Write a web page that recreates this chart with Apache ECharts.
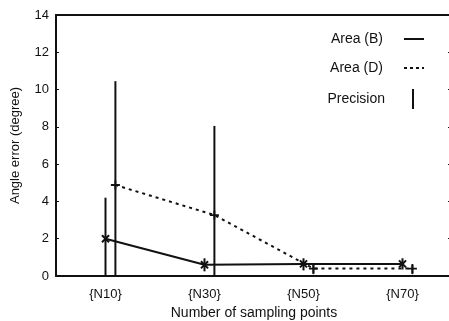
<!DOCTYPE html>
<html>
<head>
<meta charset="utf-8">
<script src="https://cdn.jsdelivr.net/npm/echarts@6/dist/echarts.min.js"></script>
<style>
  html, body { margin: 0; padding: 0; background: #fff; }
  #chart { width: 449px; height: 321px; }
</style>
</head>
<body>
<div id="chart"></div>
<script>
const categories = ['{N10}', '{N30}', '{N50}', '{N70}'];
// x positions on the hidden value axis (category index, D drawn slightly to the right)
const areaBX = [0, 1, 2, 3];
const areaDX = [0.1, 1.1, 2.1, 3.1];
const areaB = [2.0, 0.6, 0.65, 0.65];
const areaD = [4.88, 3.27, 0.4, 0.4];
// precision bars: [low, high]
const precisionB = [[0, 4.2], [0.25, 0.95], [0.3, 0.95], [0.35, 0.95]];
const precisionD = [[0, 10.45], [0, 8.05], [0.1, 0.6], [0.1, 0.6]];
const yTicks = [0, 14, 2];

const ink = '#111';
const plusPath = 'path://M4,0h2v4h4v2h-4v4h-2v-4h-4v-2h4z';

const chart = echarts.init(document.getElementById('chart'));

const precisionData = [];
precisionB.forEach((p, i) => precisionData.push([areaBX[i], p[0], p[1]]));
precisionD.forEach((p, i) => precisionData.push([areaDX[i], p[0], p[1]]));

const legendBase = {
  orient: 'vertical',
  right: 20,
  align: 'right',
  itemWidth: 20,
  itemHeight: 20,
  textStyle: { color: ink, fontSize: 14, padding: [0, 16, 0, 0] }
};

const option = {
  animation: false,
  backgroundColor: '#fff',
  textStyle: { fontFamily: 'Liberation Sans, Arial, sans-serif' },
  grid: { left: 56, top: 15, width: 396, height: 261, outerBoundsMode: 'none', containLabel: false },
  legend: [
    Object.assign({}, legendBase, {
      top: 27,
      data: [{ name: 'Area (B)', icon: 'path://M0,0h20v2h-20z', itemStyle: { color: ink } }]
    }),
    Object.assign({}, legendBase, {
      top: 56,
      data: [{ name: 'Area (D)', icon: 'path://M0,0h3v2h-3zM6,0h3v2h-3zM12,0h3v2h-3zM18,0h2v2h-2z', itemStyle: { color: ink } }]
    }),
    Object.assign({}, legendBase, {
      top: 84,
      right: 30,
      itemWidth: 2,
      textStyle: { color: ink, fontSize: 14, padding: [0, 22, 0, 0] },
      data: [{ name: 'Precision', icon: 'path://M0,0h2v20h-2z', itemStyle: { color: ink } }]
    })
  ],
  xAxis: [
    {
      type: 'category',
      data: categories,
      boundaryGap: true,
      position: 'bottom',
      name: 'Number of sampling points',
      nameLocation: 'middle',
      nameGap: 28,
      nameTextStyle: { color: ink, fontSize: 14 },
      axisLine: { onZero: false, lineStyle: { color: ink, width: 2 } },
      axisTick: { show: false },
      axisLabel: { color: ink, fontSize: 13, margin: 12 },
      splitLine: { show: false }
    },
    {
      type: 'value',
      min: -0.5,
      max: 3.5,
      show: false
    },
    {
      type: 'category',
      data: categories,
      boundaryGap: true,
      position: 'top',
      axisLine: { onZero: false, lineStyle: { color: ink, width: 2 } },
      axisTick: { inside: true, alignWithLabel: true, length: 3, lineStyle: { color: ink } },
      axisLabel: { show: false },
      splitLine: { show: false }
    }
  ],
  yAxis: [
    {
      type: 'value',
      min: yTicks[0],
      max: yTicks[1],
      interval: yTicks[2],
      name: 'Angle error (degree)',
      nameLocation: 'middle',
      nameGap: 34,
      nameTextStyle: { color: ink, fontSize: 13 },
      axisLine: { show: true, onZero: false, lineStyle: { color: ink, width: 2 } },
      axisTick: { show: true, inside: true, length: 3, lineStyle: { color: ink } },
      axisLabel: { color: ink, fontSize: 13, margin: 7 },
      splitLine: { show: false }
    },
    {
      type: 'value',
      min: yTicks[0],
      max: yTicks[1],
      interval: yTicks[2],
      position: 'right',
      axisLine: { show: true, onZero: false, lineStyle: { color: ink, width: 2 } },
      axisTick: { show: true, inside: true, length: 4, lineStyle: { color: ink } },
      axisLabel: { show: false },
      splitLine: { show: false }
    }
  ],
  series: [
    {
      name: 'Precision',
      type: 'custom',
      xAxisIndex: 1,
      yAxisIndex: 0,
      itemStyle: { color: ink },
      data: precisionData,
      renderItem: function (params, api) {
        const p0 = api.coord([api.value(0), api.value(1)]);
        const p1 = api.coord([api.value(0), api.value(2)]);
        return {
          type: 'line',
          shape: { x1: p0[0], y1: p0[1], x2: p1[0], y2: p1[1] },
          style: { stroke: ink, lineWidth: 2 }
        };
      }
    },
    {
      name: 'Area (B)',
      type: 'line',
      xAxisIndex: 1,
      yAxisIndex: 0,
      data: areaBX.map((x, i) => [x, areaB[i]]),
      symbol: plusPath,
      symbolSize: 10,
      symbolRotate: 45,
      itemStyle: { color: ink },
      lineStyle: { color: ink, width: 2 }
    },
    {
      name: 'Area (D)',
      type: 'line',
      xAxisIndex: 1,
      yAxisIndex: 0,
      data: areaDX.map((x, i) => [x, areaD[i]]),
      symbol: plusPath,
      symbolSize: 9,
      itemStyle: { color: ink },
      lineStyle: { color: ink, width: 2, type: [3, 4] }
    }
  ]
};

chart.setOption(option);
</script>
</body>
</html>
